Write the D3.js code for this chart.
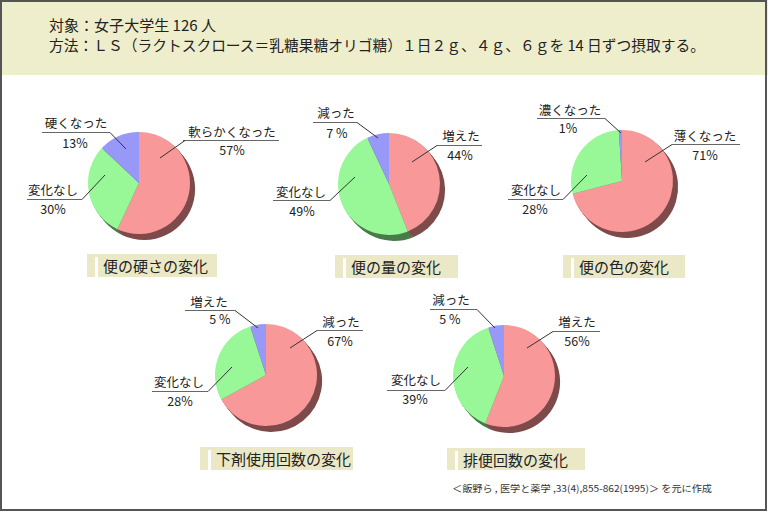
<!DOCTYPE html>
<html><head><meta charset="utf-8">
<script src="https://cdn.jsdelivr.net/npm/d3@7"></script>
<style>body{margin:0;background:#fff}svg{display:block}text{font-family:"Noto Sans CJK JP","Noto Sans",sans-serif;fill:#222}</style>
</head><body>
<script>
// ---- data ----
const titles = ["便の硬さの変化","便の量の変化","便の色の変化","下剤使用回数の変化","排便回数の変化"];
const categories = [
  ["軟らかくなった","変化なし","硬くなった"],
  ["増えた","変化なし","減った"],
  ["薄くなった","変化なし","濃くなった"],
  ["減った","変化なし","増えた"],
  ["増えた","変化なし","減った"]
];
const values = [
  [57,30,13],
  [44,49,7],
  [71,28,1],
  [67,28,5],
  [56,39,5]
];
const pctLabels = [
  ["57%","30%","13%"],
  ["44%","49%","7 %"],
  ["71%","28%","1%"],
  ["67%","28%","5 %"],
  ["56%","39%","5 %"]
];
const headerLines = ["対象：女子大学生 126 人","方法：ＬＳ（ラクトスクロース＝乳糖果糖オリゴ糖）１日２ｇ、４ｇ、６ｇを 14 日ずつ摂取する。"];
const sourceNote = "＜飯野ら , 医学と薬学 ,33(4),855-862(1995)＞ を元に作成";

// ---- layout / style ----
const W=768,H=512;
const sliceColors=["#F89898","#98F898","#9898F8"];
const shadowColors=["#7E4A4A","#4A7A4A","#4A4A7E"];
const R=51;
const layout=[
 {c:[139,183], box:[87,254,130,23], labels:[
   {tx:232,ty:137,u:[183,279,140],l:[185,140,160,158],px:232,py:155},
   {tx:53,ty:195,u:[27,82,199],l:[82,199,105,175],px:53,py:214},
   {tx:76,ty:128,u:[42,110,132],l:[110,132,126,149],px:75,py:148}]},
 {c:[389,184], box:[335,255,123,23], labels:[
   {tx:461,ty:141,u:[437,482,145],l:[437,145,412,162],px:460,py:160},
   {tx:301,ty:197,u:[273,330,200],l:[330,200,355,177],px:302,py:216},
   {tx:336,ty:118,u:[313,357,122],l:[357,122,378,138],px:337,py:138}]},
 {c:[622,181], box:[563,255,122,23], labels:[
   {tx:705,ty:141,u:[672,740,144],l:[672,144,645,162],px:705,py:160},
   {tx:536,ty:195,u:[508,563,199],l:[563,199,587,175],px:535,py:214},
   {tx:570,ty:115,u:[537,605,118],l:[605,118,621,133],px:568,py:133}]},
 {c:[266,375], box:[200,447,153,23], labels:[
   {tx:341,ty:327,u:[317,363,330],l:[317,330,290,348],px:340,py:346},
   {tx:179,ty:387,u:[152,208,391],l:[208,391,232,367],px:180,py:406},
   {tx:209,ty:307,u:[185,235,310],l:[235,310,258,328],px:220,py:324}]},
 {c:[504,376], box:[447,448,138,22], labels:[
   {tx:577,ty:327,u:[553,600,331],l:[553,331,527,348],px:577,py:346},
   {tx:416,ty:385,u:[387,445,390],l:[445,390,468,367],px:415,py:404},
   {tx:451,ty:305,u:[430,477,309],l:[477,309,495,328],px:450,py:324}]}
];

const svg=d3.select("body").append("svg").attr("width",W).attr("height",H);
svg.append("rect").attr("width",W).attr("height",H).attr("fill","#fff");
svg.append("rect").attr("x",0).attr("y",0).attr("width",W).attr("height",75).attr("fill","#EFEECC");
const hl=[[49,31,167],[49,51,656]];
headerLines.forEach((t,i)=>{
  svg.append("text").attr("x",hl[i][0]).attr("y",hl[i][1]).attr("font-size",15)
   .attr("textLength",hl[i][2]).attr("lengthAdjust","spacingAndGlyphs").text(t);
});

const pie=d3.pie().sort(null).value(d=>d);
const arc=d3.arc().innerRadius(0).outerRadius(R);

values.forEach((vals,i)=>{
  const L=layout[i];
  const g=svg.append("g").attr("transform",`translate(${L.c[0]},${L.c[1]})`);
  const arcs=pie(vals);
  for(let k=6;k>=1;k--){
    g.append("g").attr("transform",`translate(${k*0.85},${k})`)
     .selectAll("path").data(arcs).join("path")
     .attr("d",arc).attr("fill",(d,j)=>shadowColors[j]);
  }
  g.selectAll("path.s").data(arcs).join("path").attr("class","s")
   .attr("d",arc).attr("fill",(d,j)=>sliceColors[j]);
  L.labels.forEach((lb,j)=>{
    svg.append("line").attr("x1",lb.u[0]).attr("x2",lb.u[1]).attr("y1",lb.u[2]+0.5).attr("y2",lb.u[2]+0.5)
      .attr("stroke","#666").attr("stroke-width",1);
    svg.append("line").attr("x1",lb.l[0]).attr("y1",lb.l[1]+0.5).attr("x2",lb.l[2]).attr("y2",lb.l[3])
      .attr("stroke","#333").attr("stroke-width",1);
    svg.append("text").attr("x",lb.tx).attr("y",lb.ty).attr("text-anchor","middle").attr("font-size",12.5).text(categories[i][j]);
    svg.append("text").attr("x",lb.px).attr("y",lb.py).attr("text-anchor","middle").attr("font-size",12.5).text(pctLabels[i][j]);
  });
  const b=L.box;
  svg.append("rect").attr("x",b[0]).attr("y",b[1]).attr("width",b[2]).attr("height",b[3]).attr("fill","#EAE8C6");
  svg.append("rect").attr("x",b[0]+8).attr("y",b[1]+3).attr("width",3).attr("height",b[3]-3).attr("fill","#fff");
  svg.append("text").attr("x",b[0]+16).attr("y",b[1]+18).attr("font-size",15).text(titles[i]);
});

svg.append("text").attr("x",452).attr("y",492).attr("font-size",9.5).style("fill","#333")
  .attr("textLength",260).attr("lengthAdjust","spacingAndGlyphs").text(sourceNote);

svg.append("rect").attr("x",1).attr("y",1).attr("width",W-3).attr("height",H-3)
  .attr("fill","none").attr("stroke","#555").attr("stroke-width",2);
</script>
</body></html>
